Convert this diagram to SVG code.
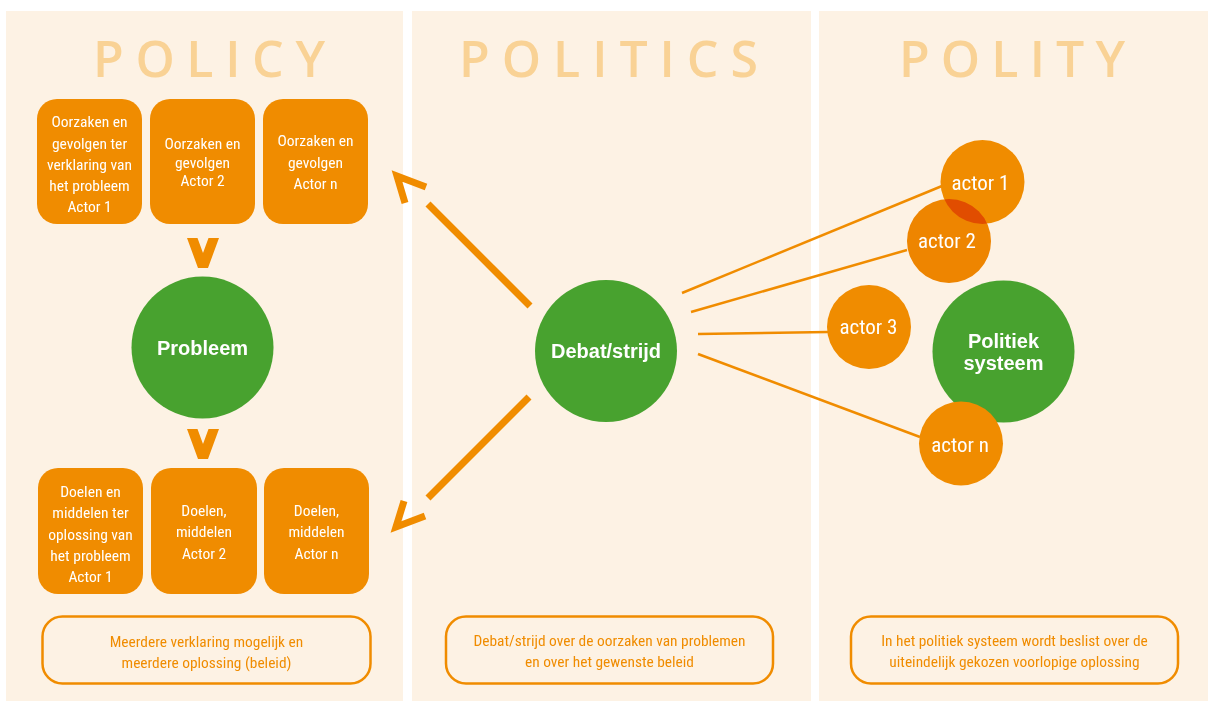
<svg xmlns="http://www.w3.org/2000/svg" width="1208" height="702" viewBox="0 0 1208 702">
<defs>
<style>
.panel{fill:#FDF2E4}
.title{font-family:"Open Sans","Noto Sans",sans-serif;font-weight:600;font-size:50px;fill:#F9D295}
.box{fill:#F08C00}
.bt{font-family:"Liberation Sans Narrow","Roboto Condensed","Liberation Sans",sans-serif;font-size:15.5px;fill:#FFFFFF;text-anchor:middle}
.cap{fill:none;stroke:#F08C00;stroke-width:2.5}
.ct{font-family:"Liberation Sans Narrow","Roboto Condensed","Liberation Sans",sans-serif;font-size:15.4px;fill:#F08C00;text-anchor:middle}
.green{fill:#48A22F}
.gt{font-family:"Liberation Sans","Noto Sans",sans-serif;font-weight:bold;font-size:20px;fill:#FFFFFF;text-anchor:middle}
.act{fill:#F08C00}
.at{font-family:"Liberation Sans Narrow","Roboto Condensed","Liberation Sans",sans-serif;font-size:21px;fill:#FFFFFF;text-anchor:middle}
.thick{fill:none;stroke:#F08C00;stroke-width:7}
.thin{fill:none;stroke:#F08C00;stroke-width:2.5}
.chev{fill:#F08C00}
</style>
</defs>
<rect width="1208" height="702" fill="#FFFFFF"/>
<g id="panels">
<rect class="panel" x="6" y="11" width="397" height="690"/>
<rect class="panel" x="412" y="11" width="399" height="690"/>
<rect class="panel" x="819" y="11" width="389" height="690"/>
<text class="title" x="93" y="77" textLength="232" lengthAdjust="spacing">POLICY</text>
<text class="title" x="459" y="77" textLength="299" lengthAdjust="spacing">POLITICS</text>
<text class="title" x="899" y="77" textLength="226" lengthAdjust="spacing">POLITY</text>
</g>
<g id="connectors">
<polygon class="chev" points="187,238 197.5,238 203,253 208.5,238 219,238 208,268 198,268"/>
<polygon class="chev" points="187,429 197.5,429 203,444 208.5,429 219,429 208,459 198,459"/>
<line class="thick" x1="530" y1="306" x2="428" y2="204"/>
<polyline class="thick" points="426,187 397,176 405,203"/>
<line class="thick" x1="529" y1="397" x2="428" y2="498"/>
<polyline class="thick" points="404,501 396,527 425,516"/>
<line class="thin" x1="682" y1="293" x2="942" y2="186"/>
<line class="thin" x1="691" y1="312" x2="907" y2="250"/>
<line class="thin" x1="698" y1="334" x2="828" y2="332"/>
<line class="thin" x1="698" y1="354" x2="920" y2="437"/>
</g>
<g id="oorzaken1"><rect class="box" x="37" y="99" width="105" height="125" rx="20"/>
<text class="bt"><tspan x="89.5" y="127">Oorzaken en</tspan><tspan x="89.5" y="148.5">gevolgen ter</tspan><tspan x="89.5" y="169.5">verklaring van</tspan><tspan x="89.5" y="191">het probleem</tspan><tspan x="89.5" y="212">Actor 1</tspan></text></g>
<g id="oorzaken2"><rect class="box" x="150" y="99" width="105" height="125" rx="20"/>
<text class="bt"><tspan x="202.5" y="149">Oorzaken en</tspan><tspan x="202.5" y="167.5">gevolgen</tspan><tspan x="202.5" y="186">Actor 2</tspan></text></g>
<g id="oorzakenN"><rect class="box" x="263" y="99" width="105" height="125" rx="20"/>
<text class="bt"><tspan x="315.5" y="146">Oorzaken en</tspan><tspan x="315.5" y="167.5">gevolgen</tspan><tspan x="315.5" y="189">Actor n</tspan></text></g>
<g id="probleem"><circle class="green" cx="202.5" cy="347.5" r="71"/>
<text class="gt" x="202.5" y="355">Probleem</text></g>
<g id="doelen1"><rect class="box" x="38" y="468" width="105" height="126" rx="20"/>
<text class="bt"><tspan x="90.5" y="497">Doelen en</tspan><tspan x="90.5" y="518">middelen ter</tspan><tspan x="90.5" y="539.5">oplossing van</tspan><tspan x="90.5" y="561">het probleem</tspan><tspan x="90.5" y="582">Actor 1</tspan></text></g>
<g id="doelen2"><rect class="box" x="151" y="468" width="106" height="126" rx="20"/>
<text class="bt"><tspan x="204" y="516">Doelen,</tspan><tspan x="204" y="537">middelen</tspan><tspan x="204" y="558.5">Actor 2</tspan></text></g>
<g id="doelenN"><rect class="box" x="264" y="468" width="105" height="126" rx="20"/>
<text class="bt"><tspan x="316.5" y="516">Doelen,</tspan><tspan x="316.5" y="537">middelen</tspan><tspan x="316.5" y="558.5">Actor n</tspan></text></g>
<g id="caption-policy"><rect class="cap" x="42.5" y="616.5" width="328" height="67" rx="20"/>
<text class="ct"><tspan x="206.5" y="647">Meerdere verklaring mogelijk en</tspan><tspan x="206.5" y="668">meerdere oplossing (beleid)</tspan></text></g>
<g id="debat"><circle class="green" cx="606" cy="351" r="71"/>
<text class="gt" x="606" y="358">Debat/strijd</text></g>
<g id="caption-politics"><rect class="cap" x="446" y="616.5" width="327" height="67" rx="20"/>
<text class="ct"><tspan x="609.5" y="646">Debat/strijd over de oorzaken van problemen</tspan><tspan x="609.5" y="667">en over het gewenste beleid</tspan></text></g>
<g id="politiek-systeem"><circle class="green" cx="1003.5" cy="351.5" r="71"/>
<text class="gt"><tspan x="1003.5" y="348">Politiek</tspan><tspan x="1003.5" y="370">systeem</tspan></text></g>
<g id="actor1"><circle class="act" cx="982.5" cy="182" r="42"/>
<text class="at" x="980.5" y="190">actor 1</text></g>
<g id="actor2"><circle class="act" cx="949" cy="241" r="42" style="mix-blend-mode:multiply"/>
<text class="at" x="947" y="248">actor 2</text></g>
<g id="actor3"><circle class="act" cx="869" cy="327" r="42"/>
<text class="at" x="868.5" y="334">actor 3</text></g>
<g id="actorN"><circle class="act" cx="961" cy="443.5" r="42"/>
<text class="at" x="960" y="452">actor n</text></g>
<g id="caption-polity"><rect class="cap" x="851" y="616.5" width="327" height="67" rx="20"/>
<text class="ct"><tspan x="1014.5" y="646">In het politiek systeem wordt beslist over de</tspan><tspan x="1014.5" y="667">uiteindelijk gekozen voorlopige oplossing</tspan></text></g>
</svg>
